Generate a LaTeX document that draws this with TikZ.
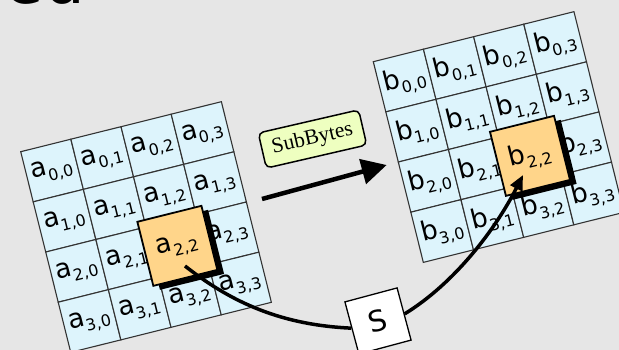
\documentclass[tikz,border=0pt]{standalone}
\usepackage{fontspec}
\setmainfont{DejaVu Sans}
\newfontfamily\serifSB{Liberation Serif}
\usetikzlibrary{arrows.meta}
\definecolor{bgc}{HTML}{E6E6E6}
\definecolor{cellc}{HTML}{DDF4FC}
\definecolor{hlc}{HTML}{FFD58A}
\definecolor{sbc}{HTML}{EEFFC0}
\definecolor{gridc}{HTML}{333333}
\newcommand\lbl[2]{#1\raisebox{-6.5pt}{\fontsize{16}{16}\selectfont #2}}
\def\cs{51.7}
\begin{document}
\begin{tikzpicture}[x=1pt,y=-1pt,
  cell/.style={draw=gridc, line width=1.1pt, fill=cellc, minimum size=51.7pt,
    inner sep=0pt, outer sep=0pt, font=\fontsize{26.5}{26.5}\selectfont},
  hlbox/.style={draw=black, line width=1.8pt, fill=hlc, minimum size=66pt,
    inner sep=0pt, font=\fontsize{26.5}{26.5}\selectfont},
  hlshadow/.style={fill=black, minimum size=66pt, inner sep=0pt},
  sbbox/.style={draw=black, line width=1.5pt, fill=sbc, rounded corners=5pt,
    minimum width=103pt, minimum height=36pt, inner sep=0pt, rotate=13,
    font=\serifSB\fontsize{21.5}{21.5}\selectfont},
  sboxstyle/.style={draw=black, line width=1.3pt, fill=white, minimum size=54pt,
    inner sep=0pt, rotate=15, font=\fontsize{29}{29}\selectfont},
  bigarrow/.style={line width=4.5pt, -{Triangle[length=25pt,width=25pt]}},
  curvearrow/.style={line width=3.5pt},
]
\fill[bgc] (0,0) rectangle (619,350);
\useasboundingbox (0,0) rectangle (619,350);

\node[anchor=base west, inner sep=0pt, font=\fontsize{64}{64}\selectfont] (hd) at (4.5,3.5) {ed};

% left grid
\begin{scope}[shift={(20.7,151.7)}, rotate=14, transform shape]
  \foreach \r in {0,...,3}{\foreach \c in {0,...,3}{
    \node[cell] (a\r\c) at ({(\c+0.5)*\cs},{(\r+0.5)*\cs}) {\ifnum\r\c=22 \else\lbl{a}{\r,\c}\fi};
  }}
  \node[hlshadow] (ash) at ({2.5*\cs+5.5},{2.5*\cs+5.5}) {};
  \node[hlbox] (A) at ({2.5*\cs},{2.5*\cs}) {\lbl{a}{2,2}};
\end{scope}

% right grid
\begin{scope}[shift={(373.3,61.7)}, rotate=14, transform shape]
  \foreach \r in {0,...,3}{\foreach \c in {0,...,3}{
    \node[cell] (b\r\c) at ({(\c+0.5)*\cs},{(\r+0.5)*\cs}) {\ifnum\r\c=22 \else\lbl{b}{\r,\c}\fi};
  }}
  \node[hlshadow] (bsh) at ({2.5*\cs+5.5},{2.5*\cs+5.5}) {};
  \node[hlbox] (B) at ({2.5*\cs},{2.5*\cs}) {\lbl{b}{2,2}};
\end{scope}

% SubBytes label and arrow
\node[sbbox] (sb) at (312.5,139) {SubBytes};
\coordinate (arrS) at (262,199);
\coordinate (arrE) at (386.7,165);
\draw[bigarrow] (arrS) -- (arrE);

% S box and curve
\node[sboxstyle] (S) at (378,321) {S};
\coordinate (c0) at (185,266);
\coordinate (c1) at (523,175);
\draw[curvearrow] (c0) .. controls (232,303) and (282,325) .. (S.west);
\draw[curvearrow, -{Triangle[length=15pt,width=13pt]}] (S.east) .. controls (455,283) and (496,228.5) .. (c1);
\end{tikzpicture}
\end{document}
